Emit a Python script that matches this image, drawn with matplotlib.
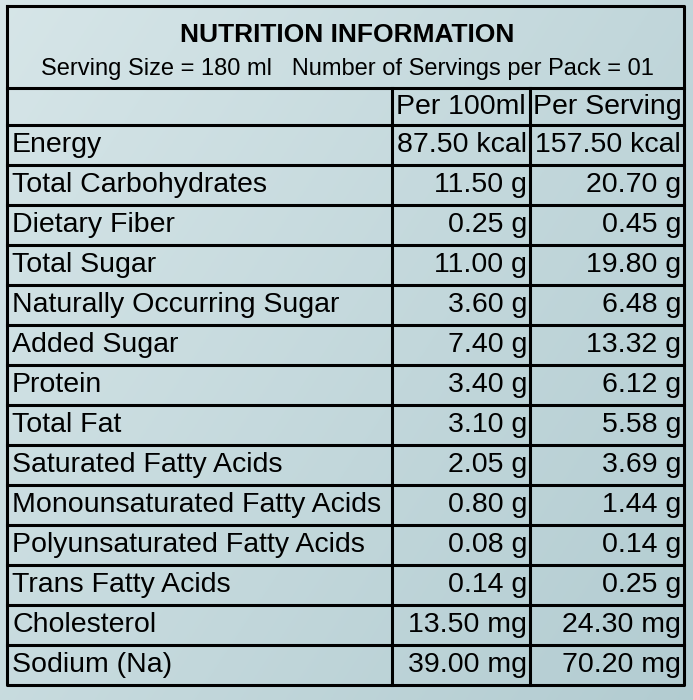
import matplotlib.pyplot as plt
import numpy as np

nutrients = ["Energy", "Total Carbohydrates", "Dietary Fiber", "Total Sugar",
             "Naturally Occurring Sugar", "Added Sugar", "Protein", "Total Fat",
             "Saturated Fatty Acids", "Monounsaturated Fatty Acids",
             "Polyunsaturated Fatty Acids", "Trans Fatty Acids", "Cholesterol",
             "Sodium (Na)"]
per_100ml = ["87.50 kcal", "11.50 g", "0.25 g", "11.00 g", "3.60 g", "7.40 g",
             "3.40 g", "3.10 g", "2.05 g", "0.80 g", "0.08 g", "0.14 g",
             "13.50 mg", "39.00 mg"]
per_serving = ["157.50 kcal", "20.70 g", "0.45 g", "19.80 g", "6.48 g", "13.32 g",
               "6.12 g", "5.58 g", "3.69 g", "1.44 g", "0.14 g", "0.25 g",
               "24.30 mg", "70.20 mg"]
headers = ["Per 100ml", "Per Serving"]

fig = plt.figure(figsize=(6.93, 7.0), dpi=100)
ax = fig.add_axes([0, 0, 1, 1])
ax.set_xlim(0, 693)
ax.set_ylim(700, 0)
ax.axis("off")

# background gradient, light cyan-grey
grad = np.linspace(0, 1, 256)
img = np.zeros((256, 256, 3))
c1 = np.array([0.84, 0.90, 0.91])
c2 = np.array([0.70, 0.80, 0.82])
for i in range(3):
    img[:, :, i] = c1[i] + (c2[i] - c1[i]) * (0.6 * grad[None, :] + 0.4 * grad[:, None])
ax.imshow(img, extent=[0, 693, 700, 0], aspect="auto", zorder=0)

font = {"family": ["Liberation Sans", "DejaVu Sans"]}
fs = 20.5

ax.text(347, 35, "NUTRITION INFORMATION", ha="center", va="center",
        fontsize=19, fontweight="bold", **font)
ax.text(347, 69, "Serving Size = 180 ml   Number of Servings per Pack = 01",
        ha="center", va="center", fontsize=17, **font)

x0, x1, x2, x3 = 7, 392, 530, 684
top_hdr = 88
row_top = 125
rh = (685 - row_top) / len(nutrients)
lw = 2.2
ax.plot([x0, x3, x3, x0, x0], [6, 6, 685, 685, 6], color="black", lw=lw)
ax.plot([x0, x3], [top_hdr, top_hdr], color="black", lw=lw)
ax.plot([x0, x3], [row_top, row_top], color="black", lw=lw)
for xv in (x1, x2):
    ax.plot([xv, xv], [top_hdr, 685], color="black", lw=lw)

ax.text((x1 + x2) / 2, (top_hdr + row_top) / 2, headers[0], ha="center",
        va="center", fontsize=fs, **font)
ax.text((x2 + x3) / 2, (top_hdr + row_top) / 2, headers[1], ha="center",
        va="center", fontsize=fs, **font)

for i, (n, a, b) in enumerate(zip(nutrients, per_100ml, per_serving)):
    yt = row_top + i * rh
    yc = yt + rh / 2
    if i > 0:
        ax.plot([x0, x3], [yt, yt], color="black", lw=lw)
    ax.text(x0 + 5, yc, n, ha="left", va="center", fontsize=fs, **font)
    ax.text(x2 - 3, yc, a, ha="right", va="center", fontsize=fs, **font)
    ax.text(x3 - 3, yc, b, ha="right", va="center", fontsize=fs, **font)

fig.savefig("out.png", dpi=100)
